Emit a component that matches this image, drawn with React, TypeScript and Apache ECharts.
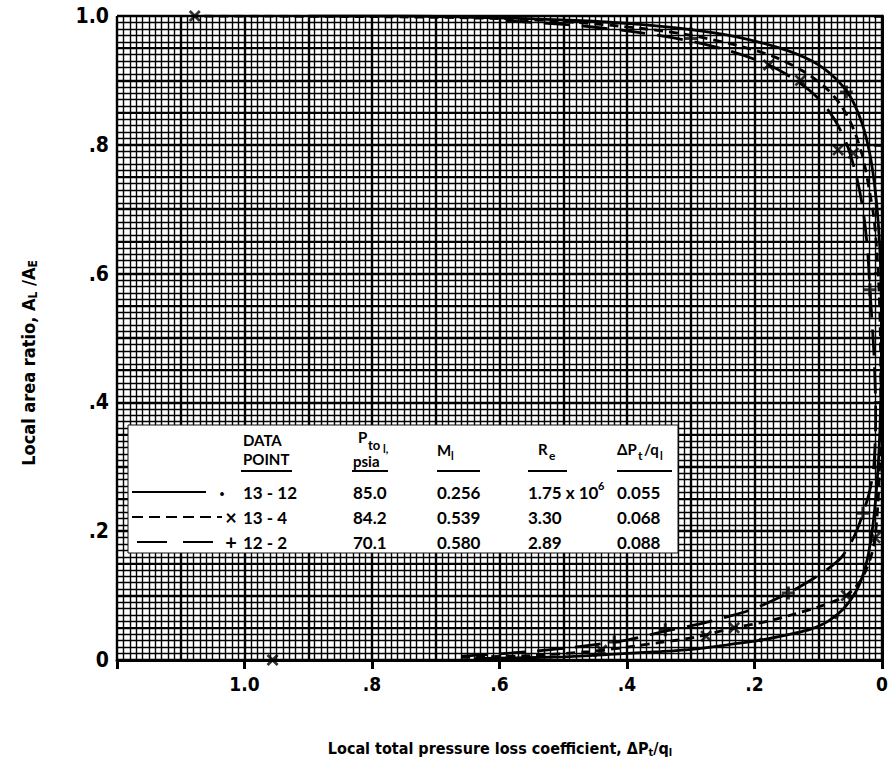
import React, { useEffect, useRef } from 'react';
import * as echarts from 'echarts';

// Curve fairings (x = ΔPt/q1, y = AL/AE)
const curve1312: number[][] = [
  [0.64, 0.002], [0.5, 0.005], [0.42, 0.009], [0.35, 0.013], [0.295, 0.017], [0.24, 0.024],
  [0.19, 0.031], [0.14, 0.041], [0.112, 0.048], [0.085, 0.06], [0.06, 0.08], [0.04, 0.108],
  [0.026, 0.145], [0.017, 0.19], [0.01, 0.25], [0.005, 0.32], [0.002, 0.4], [0.001, 0.5],
  [0.002, 0.6], [0.006, 0.68], [0.012, 0.74], [0.02, 0.79], [0.032, 0.835], [0.05, 0.875],
  [0.075, 0.905], [0.11, 0.93], [0.16, 0.95], [0.23, 0.968], [0.3, 0.979], [0.38, 0.987],
  [0.48, 0.993], [0.6, 0.997], [0.75, 1.0], [0.9, 1.0],
];
const curve134: number[][] = [
  [0.66, 0.004], [0.55, 0.007], [0.46, 0.013], [0.4, 0.02], [0.35, 0.027], [0.295, 0.035],
  [0.232, 0.05], [0.18, 0.06], [0.139, 0.071], [0.095, 0.084], [0.056, 0.1], [0.036, 0.12],
  [0.025, 0.14], [0.016, 0.165], [0.011, 0.19], [0.006, 0.25], [0.003, 0.33], [0.002, 0.42],
  [0.003, 0.52], [0.006, 0.6], [0.012, 0.68], [0.02, 0.73], [0.03, 0.78], [0.045, 0.825],
  [0.065, 0.862], [0.09, 0.89], [0.125, 0.915], [0.17, 0.937], [0.23, 0.955], [0.3, 0.97],
  [0.38, 0.981], [0.48, 0.99], [0.6, 0.996], [0.8, 0.999], [1.078, 1.0],
];
const curve122: number[][] = [
  [0.66, 0.006], [0.58, 0.011], [0.5, 0.018], [0.45, 0.024], [0.4, 0.031], [0.34, 0.045],
  [0.295, 0.054], [0.243, 0.067], [0.2, 0.08], [0.147, 0.104], [0.11, 0.125], [0.087, 0.14],
  [0.065, 0.158], [0.05, 0.18], [0.038, 0.205], [0.03, 0.228], [0.02, 0.26], [0.013, 0.3],
  [0.01, 0.38], [0.012, 0.46], [0.016, 0.53], [0.019, 0.575], [0.023, 0.64], [0.03, 0.7],
  [0.04, 0.75], [0.055, 0.8], [0.075, 0.84], [0.1, 0.872], [0.135, 0.9], [0.18, 0.925],
  [0.24, 0.946], [0.31, 0.963], [0.4, 0.977], [0.5, 0.987], [0.6, 0.993],
];

// Measured data points
const points1312: number[][] = [[0.45, 0.008], [0.19, 0.031], [0.072, 0.067], [0.3, 0.979]];
const points134: number[][] = [
  [1.078, 1.0], [0.956, 0.0], [0.44, 0.015], [0.276, 0.037], [0.232, 0.05], [0.056, 0.1],
  [0.011, 0.19], [0.069, 0.792], [0.045, 0.787], [0.178, 0.924], [0.128, 0.9],
];
const points122: number[][] = [
  [0.42, 0.028], [0.34, 0.047], [0.147, 0.104], [0.03, 0.228], [0.019, 0.575], [0.056, 0.882], [0.3, 0.965],
];

// Legend table
const tableRows = [
  { point: '13 - 12', pto: '85.0', mach: '0.256', re: '1.75 x 10', reExp: '6', loss: '0.055' },
  { point: '13 - 4', pto: '84.2', mach: '0.539', re: '3.30', reExp: '', loss: '0.068' },
  { point: '12 - 2', pto: '70.1', mach: '0.580', re: '2.89', reExp: '', loss: '0.088' },
];
const rowMarkers = ['·', '×', '+'];

const xTickLabel = (v: number) => {
  const r = Math.round(v * 10);
  if (r === 0) return '0';
  if (r === 10) return '1.0';
  if (r > 10) return '';
  return '.' + r;
};

const X_MARK = 'path://M0,1.6 L1.6,0 L5,3.4 L8.4,0 L10,1.6 L6.6,5 L10,8.4 L8.4,10 L5,6.6 L1.6,10 L0,8.4 L3.4,5 Z';
const PLUS_MARK = 'path://M3.8,0 H6.2 V3.8 H10 V6.2 H6.2 V10 H3.8 V6.2 H0 V3.8 H3.8 Z';

const NARROW = "'Liberation Sans Narrow', 'DejaVu Sans Condensed', 'Liberation Sans', sans-serif";
const TABLE_FONT = "Lato, 'Open Sans', sans-serif";

export default function App() {
  const ref = useRef<HTMLDivElement>(null);
  useEffect(() => {
    if (!ref.current) return;
    const chart = echarts.init(ref.current, undefined, { renderer: 'svg' });

    const gridAxis = (interval: number, width: number, minor: boolean) => ({
      type: 'value', min: 0, max: 1.2, interval, inverse: true,
      axisLine: { show: false }, axisTick: { show: false }, axisLabel: { show: false },
      splitLine: { show: true, lineStyle: { color: '#000', width } },
      minorTick: { show: false, splitNumber: 10 },
      minorSplitLine: { show: minor, lineStyle: { color: '#000', width: 1.4 } },
    });
    const gridYAxis = (interval: number, width: number, minor: boolean) => ({
      type: 'value', min: 0, max: 1.0, interval,
      axisLine: { show: false }, axisTick: { show: false }, axisLabel: { show: false },
      splitLine: { show: true, lineStyle: { color: '#000', width } },
      minorTick: { show: false, splitNumber: 10 },
      minorSplitLine: { show: minor, lineStyle: { color: '#000', width: 1.4 } },
    });

    const T = 17;
    const graphic: any[] = [];
    graphic.push({ type: 'rect', shape: { x: 128, y: 425, width: 550, height: 128 }, style: { fill: '#fff', stroke: '#111', lineWidth: 1 }, z: 100 });
    const txt = (x: number, y: number, text: string, size = T, align = 'left', extra: any = {}) => ({
      type: 'text', x, y, z: 101,
      style: { text, fill: '#000', font: `bold ${size}px ${TABLE_FONT}`, textAlign: align, textVerticalAlign: 'middle', ...extra },
    });
    const ul = (x1: number, x2: number, y: number) => ({ type: 'line', z: 101, shape: { x1, y1: y, x2, y2: y }, style: { stroke: '#000', lineWidth: 2 } });
    graphic.push(txt(243, 440, 'DATA', 15));
    graphic.push(txt(243, 459, 'POINT', 15));
    graphic.push(ul(241, 292, 471));
    graphic.push(txt(358, 437, 'P', 15));
    graphic.push(txt(368, 445, 'to', 13));
    graphic.push(txt(383, 448, 'l,', 11));
    graphic.push(txt(353, 461, 'psia', 15));
    graphic.push(ul(352, 388, 471));
    graphic.push(txt(437, 450, 'M', 15));
    graphic.push(txt(451, 455, 'l', 11));
    graphic.push(ul(437, 480, 471));
    graphic.push(txt(538, 449, 'R', 15));
    graphic.push(txt(549, 455, 'e', 12));
    graphic.push(ul(528, 567, 471));
    graphic.push(txt(617, 449, 'ΔP', 15));
    graphic.push(txt(638, 455, 't', 12));
    graphic.push(txt(644, 449, '/q', 15));
    graphic.push(txt(660, 455, 'l', 11));
    graphic.push(ul(617, 672, 471));
    const rowY = [492, 517, 542];
    tableRows.forEach((r, i) => {
      const y = rowY[i];
      graphic.push(txt(243, y, r.point));
      graphic.push(txt(353, y, r.pto));
      graphic.push(txt(437, y, r.mach));
      graphic.push(txt(528, y, r.re));
      if (r.reExp) graphic.push(txt(598, y - 7, r.reExp, 11));
      graphic.push(txt(617, y, r.loss));
      graphic.push(txt(i === 0 ? 222 : 231, y, rowMarkers[i], 20, 'center'));
    });
    graphic.push({ type: 'line', z: 101, shape: { x1: 132, y1: 492, x2: 206, y2: 492 }, style: { stroke: '#000', lineWidth: 2 } });
    graphic.push({ type: 'line', z: 101, shape: { x1: 132, y1: 517, x2: 222, y2: 517 }, style: { stroke: '#000', lineWidth: 2, lineDash: [11, 6] } });
    graphic.push({ type: 'line', z: 101, shape: { x1: 137, y1: 542, x2: 225, y2: 542 }, style: { stroke: '#000', lineWidth: 2.2, lineDash: [30, 16] } });

    // axis titles
    graphic.push({
      type: 'text', x: 500, y: 748, z: 101,
      style: {
        text: '{a|Local total pressure loss coefficient, ΔP}{s|t}{a|/q}{s|l}',
        textAlign: 'center', textVerticalAlign: 'middle', fill: '#000',
        rich: {
          a: { font: `bold 16px ${NARROW}`, lineHeight: 20, fill: '#000' },
          s: { font: `bold 11px ${NARROW}`, lineHeight: 10, verticalAlign: 'bottom', fill: '#000' },
        },
      },
    });
    graphic.push({
      type: 'text', x: 28, y: 363, rotation: Math.PI / 2, z: 101,
      style: {
        text: '{a|Local area ratio, A}{s|L}{a| /A}{s|E}',
        textAlign: 'center', textVerticalAlign: 'middle', fill: '#000',
        rich: {
          a: { font: `bold 18px ${NARROW}`, lineHeight: 22, fill: '#000' },
          s: { font: `bold 12px ${NARROW}`, lineHeight: 11, verticalAlign: 'bottom', fill: '#000' },
        },
      },
    });

    const lineSeries = (data: number[][], dash: any) => ({
      type: 'line', data, xAxisIndex: 0, yAxisIndex: 0, smooth: 0.3, showSymbol: false, z: 5,
      lineStyle: { color: '#000', width: 2.8, type: dash },
    });
    const pointSeries = (data: number[][], symbol: string, size: number) => ({
      type: 'scatter', data, xAxisIndex: 0, yAxisIndex: 0, symbol, symbolSize: size, z: 6,
      itemStyle: { color: '#000' },
    });

    chart.setOption({
      animation: false,
      backgroundColor: '#fff',
      grid: { left: 117, right: 2, top: 16, bottom: 110, containLabel: false },
      xAxis: [
        {
          type: 'value', min: 0, max: 1.2, interval: 0.2, inverse: true,
          axisLine: { show: true, lineStyle: { color: '#000', width: 3 } },
          axisTick: { show: true, length: 9, lineStyle: { color: '#000', width: 3 } },
          axisLabel: { margin: 14, formatter: xTickLabel, color: '#000', fontWeight: 'bold', fontSize: 19, fontFamily: NARROW },
          splitLine: { show: false },
        },
        gridAxis(0.1, 2.4, true),
      ],
      yAxis: [
        {
          type: 'value', min: 0, max: 1.0, interval: 0.2,
          axisLine: { show: true, lineStyle: { color: '#000', width: 3 } },
          axisTick: { show: true, length: 8, lineStyle: { color: '#000', width: 2.5 } },
          axisLabel: { margin: 8, formatter: xTickLabel, color: '#000', fontWeight: 'bold', fontSize: 21, fontFamily: NARROW },
          splitLine: { show: false },
        },
        gridYAxis(0.1, 2.4, true),
        gridYAxis(0.05, 1.8, false),
      ],
      series: [
        lineSeries(curve1312, 'solid'),
        lineSeries(curve134, [9, 6]),
        lineSeries(curve122, [26, 12]),
        pointSeries(points1312, 'circle', 5),
        pointSeries(points134, X_MARK, 12),
        pointSeries(points122, PLUS_MARK, 13),
      ],
      graphic,
    });
    return () => chart.dispose();
  }, []);
  return <div ref={ref} style={{ position: 'fixed', left: 0, top: 0, width: 891, height: 770, background: '#fff' }} />;
}
